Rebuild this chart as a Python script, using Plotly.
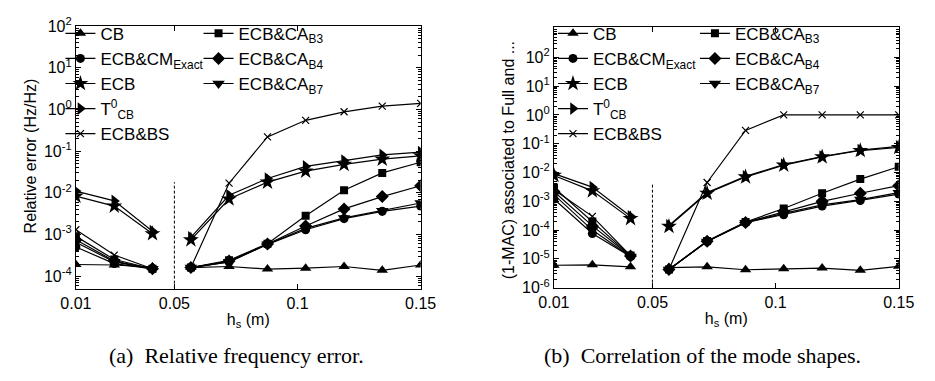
import plotly.graph_objects as go

W, H = 935, 381

hs = [0.01, 0.0256, 0.0411, 0.0567, 0.0722, 0.0878, 0.1033, 0.1189, 0.1344, 0.15]
n_left = 3  # first group of points (left of the dashed line)

series_names = ["CB", "ECB&CM<sub>Exact</sub>", "ECB", "T<sup>0</sup><sub>CB</sub>", "ECB&BS",
                "ECB&CA<sub>B3</sub>", "ECB&CA<sub>B4</sub>", "ECB&CA<sub>B7</sub>"]

# (a) relative frequency error
freq_CB   = [1.9e-4, 1.85e-4, 1.65e-4, 1.6e-4, 1.7e-4, 1.48e-4, 1.55e-4, 1.7e-4, 1.38e-4, 1.85e-4]
freq_CM   = [5.0e-4, 2.0e-4, 1.5e-4, 1.6e-4, 2.2e-4, 5.8e-4, 1.3e-3, 2.4e-3, 3.6e-3, 4.8e-3]
freq_ECB  = [8.3e-3, 4.8e-3, 1.04e-3, 7.4e-4, 7.1e-3, 0.018, 0.033, 0.048, 0.064, 0.077]
freq_T0   = [0.011, 6.4e-3, 1.2e-3, 8.5e-4, 8.7e-3, 0.022, 0.043, 0.059, 0.081, 0.095]
freq_BS   = [1.3e-3, 3.2e-4, 1.5e-4, 1.6e-4, 0.017, 0.22, 0.55, 0.88, 1.2, 1.4]
freq_B3   = [9.0e-4, 2.5e-4, 1.5e-4, 1.6e-4, 2.4e-4, 6.0e-4, 2.8e-3, 0.0115, 0.030, 0.054]
freq_B4   = [7.5e-4, 2.3e-4, 1.5e-4, 1.6e-4, 2.3e-4, 5.9e-4, 1.6e-3, 4.1e-3, 8.1e-3, 0.0148]
freq_B7   = [6.5e-4, 2.2e-4, 1.5e-4, 1.6e-4, 2.2e-4, 5.8e-4, 1.4e-3, 2.5e-3, 3.7e-3, 5.7e-3]

# (b) 1-MAC
mac_CB    = [6.0e-6, 6.2e-6, 5.3e-6, 5.0e-6, 5.3e-6, 4.2e-6, 4.5e-6, 4.8e-6, 4.0e-6, 5.5e-6]
mac_CM    = [1.2e-3, 7.6e-5, 1.2e-5, 4.3e-6, 4.0e-5, 1.8e-4, 3.4e-4, 6.8e-4, 1.07e-3, 1.78e-3]
mac_ECB   = [7.9e-3, 2.3e-3, 2.5e-4, 1.35e-4, 1.9e-3, 7.0e-3, 0.018, 0.035, 0.058, 0.074]
mac_T0    = [9.1e-3, 3.1e-3, 3.0e-4, 1.45e-4, 2.0e-3, 7.3e-3, 0.019, 0.036, 0.060, 0.081]
mac_BS    = [2.5e-3, 3.0e-4, 1.3e-5, 4.3e-6, 4.5e-3, 0.29, 1.0, 1.0, 1.0, 1.0]
mac_B3    = [3.0e-3, 2.0e-4, 1.3e-5, 4.3e-6, 4.2e-5, 1.9e-4, 5.6e-4, 1.9e-3, 5.9e-3, 0.0158]
mac_B4    = [2.2e-3, 1.4e-4, 1.25e-5, 4.3e-6, 4.1e-5, 1.85e-4, 4.4e-4, 1.0e-3, 1.9e-3, 3.5e-3]
mac_B7    = [1.7e-3, 1.0e-4, 1.2e-5, 4.3e-6, 4.0e-5, 1.8e-4, 3.8e-4, 7.5e-4, 1.15e-3, 2.0e-3]

freq_data = [freq_CB, freq_CM, freq_ECB, freq_T0, freq_BS, freq_B3, freq_B4, freq_B7]
mac_data = [mac_CB, mac_CM, mac_ECB, mac_T0, mac_BS, mac_B3, mac_B4, mac_B7]

x_ticks = [0.01, 0.05, 0.1, 0.15]
x_ticktext = ["0.01", "0.05", "0.1", "0.15"]
a_yticks_exp = [-4, -3, -2, -1, 0, 1, 2]
b_yticks_exp = [-6, -5, -4, -3, -2, -1, 0, 1, 2]
a_yrange = [-4.3, 2.0]
b_yrange = [-6.0, 3.05]
split_x = 0.05
a_split_top = 0.018
b_split_top = 4.2e-3

x_title = "h<sub>s</sub> (m)"
a_ytitle = "Relative error (Hz/Hz)"
b_ytitle = "(1-MAC) associated to Full and ..."
cap_a = "(a)\u00a0 Relative frequency error."
cap_b = "(b)\u00a0 Correlation of the mode shapes."

symbols = ["triangle-up", "circle", "star", "triangle-right", "x-thin", "square", "diamond", "triangle-down"]
sizes = [10, 9, 12, 11, 7, 8, 10, 11]

FONT = "Liberation Sans, Arial, Helvetica, sans-serif"
SERIF = "Liberation Serif, DejaVu Serif, serif"


def gapped(vals):
    return list(vals[:n_left]) + [None] + list(vals[n_left:])


fig = go.Figure()

for panel, (data, xa, ya, legs) in enumerate([
        (freq_data, "x", "y", ("legend", "legend2")),
        (mac_data, "x2", "y2", ("legend3", "legend4"))]):
    for i, name in enumerate(series_names):
        fig.add_trace(go.Scatter(
            x=gapped(hs), y=gapped(data[i]), xaxis=xa, yaxis=ya,
            mode="lines+markers", name=name,
            legend=legs[0] if i < 5 else legs[1],
            legendgroup=f"g{panel}_{i}",
            line=dict(color="black", width=1.2),
            marker=dict(symbol=symbols[i], size=sizes[i], color="black",
                        line=dict(color="black", width=1.2 if symbols[i] == "x-thin" else 0)),
            connectgaps=False,
        ))

fig.add_trace(go.Scatter(x=[split_x, split_x], y=[10 ** a_yrange[0], a_split_top], xaxis="x", yaxis="y",
                         mode="lines", line=dict(color="black", width=1, dash="3px,2px"), showlegend=False))
fig.add_trace(go.Scatter(x=[split_x, split_x], y=[10 ** b_yrange[0], b_split_top], xaxis="x2", yaxis="y2",
                         mode="lines", line=dict(color="black", width=1, dash="3px,2px"), showlegend=False))


def px_x(p):
    return p / W


def px_y(p):
    return 1 - p / H


def minor_vals(lo, hi):
    out = []
    for d in range(lo, hi + 1):
        for k in range(2, 10):
            out.append(k * 10 ** d)
    return out


axis_common = dict(showline=True, linecolor="black", linewidth=1, mirror="allticks",
                   ticks="inside", ticklen=5, tickcolor="black", showgrid=False, zeroline=False,
                   tickfont=dict(family=FONT, size=16, color="black"))

fig.update_layout(
    width=W, height=H, margin=dict(l=0, r=0, t=0, b=0),
    paper_bgcolor="white", plot_bgcolor="white",
    font=dict(family=FONT, size=16, color="black"),
    xaxis=dict(domain=[px_x(62), px_x(419)], anchor="y", range=[0.01, 0.15],
               tickvals=x_ticks, ticktext=x_ticktext,
               title=dict(text=x_title, font=dict(size=16), standoff=2), **axis_common),
    yaxis=dict(domain=[px_y(293), px_y(16)], anchor="x", type="log", range=a_yrange,
               tickvals=[10 ** e for e in a_yticks_exp],
               ticktext=[f"10<sup>{e}</sup>" for e in a_yticks_exp],
               minor=dict(ticks="inside", ticklen=3, tickcolor="black",
                          tickvals=minor_vals(-5, 1)), **axis_common),
    xaxis2=dict(domain=[px_x(557), px_x(914)], anchor="y2", range=[0.01, 0.15],
                tickvals=x_ticks, ticktext=x_ticktext,
                title=dict(text=x_title, font=dict(size=16), standoff=2), **axis_common),
    yaxis2=dict(domain=[px_y(292), px_y(17)], anchor="x2", type="log", range=b_yrange,
                tickvals=[10 ** e for e in b_yticks_exp],
                ticktext=[f"10<sup>{e}</sup>" for e in b_yticks_exp],
                minor=dict(ticks="inside", ticklen=3, tickcolor="black",
                           tickvals=minor_vals(-6, 2)), **axis_common),
)

leg_common = dict(bgcolor="rgba(0,0,0,0)", borderwidth=0, xanchor="left", yanchor="top",
                  font=dict(family=FONT, size=17, color="black"), tracegroupgap=0,
                  itemwidth=30)
fig.update_layout(
    legend=dict(x=px_x(46), y=px_y(5), **leg_common),
    legend2=dict(x=px_x(189), y=px_y(5), **leg_common),
    legend3=dict(x=px_x(556), y=px_y(5), **leg_common),
    legend4=dict(x=px_x(703), y=px_y(5), **leg_common),
)

fig.add_annotation(text=a_ytitle, x=px_x(16), y=px_y(153), xref="paper", yref="paper",
                   xanchor="center", yanchor="middle",
                   textangle=-90, showarrow=False, font=dict(family=FONT, size=16))
fig.add_annotation(text=b_ytitle, x=px_x(510), y=px_y(158), xref="paper", yref="paper",
                   xanchor="center", yanchor="middle",
                   textangle=-90, showarrow=False, font=dict(family=FONT, size=16))
fig.add_annotation(text=cap_a, x=px_x(228), y=px_y(364), xref="paper", yref="paper",
                   xanchor="center", yanchor="middle",
                   showarrow=False, font=dict(family=SERIF, size=22))
fig.add_annotation(text=cap_b, x=px_x(711), y=px_y(364), xref="paper", yref="paper",
                   xanchor="center", yanchor="middle",
                   showarrow=False, font=dict(family=SERIF, size=22))

fig.write_html("out.html")
